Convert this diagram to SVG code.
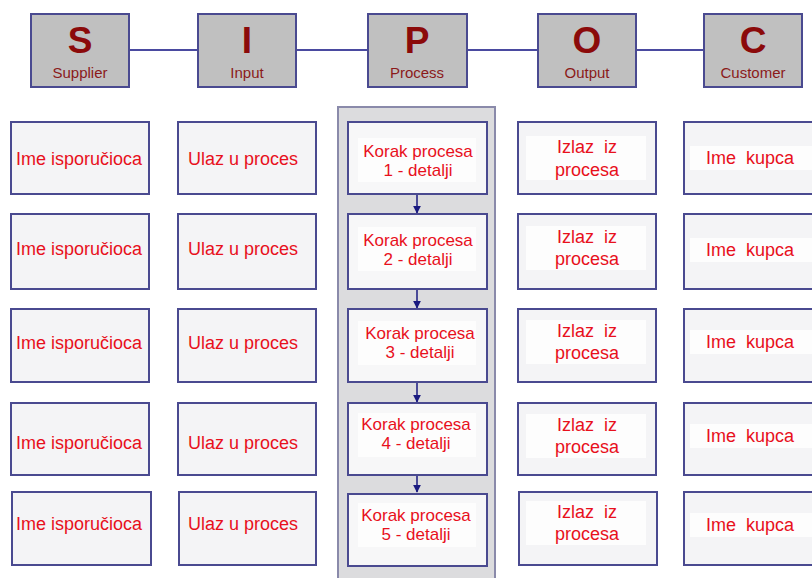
<svg xmlns="http://www.w3.org/2000/svg" width="812" height="578" viewBox="0 0 812 578">
<style>
.hdr{fill:#C0C0C0;stroke:#4A4A90;stroke-width:2}
.big{font-family:"Liberation Sans",Arial,sans-serif;font-weight:bold;font-size:37px;fill:#8B0A0A;text-anchor:middle}
.sub{font-family:"Liberation Sans",Arial,sans-serif;font-size:15px;fill:#8B1A1A;text-anchor:middle}
.box{fill:#F4F4F6;stroke:#4A4A90;stroke-width:2}
.pbox{fill:#F7F7F8;stroke:#4A4A90;stroke-width:2}
.hl{fill:#FDFDFD}
.t{font-family:"Liberation Sans",Arial,sans-serif;font-size:18px;fill:#E8101C;text-anchor:middle;white-space:pre}
.tp{font-family:"Liberation Sans",Arial,sans-serif;font-size:17px;fill:#E8101C;text-anchor:middle;white-space:pre}
.con{stroke:#4A4AA0;stroke-width:2;fill:none}
.arr{stroke:#1A1A80;stroke-width:1.5;fill:none}
</style>
<defs>
<marker id="ah" viewBox="0 0 10 10" refX="9" refY="5" markerWidth="8" markerHeight="8" markerUnits="userSpaceOnUse" orient="auto">
<path d="M0,0 L10,5 L0,10 z" fill="#1A1A80"/>
</marker>
</defs>
<rect width="812" height="578" fill="#FFFFFF"/>
<g id="connectors">
<line class="con" x1="129" y1="50" x2="198" y2="50"/>
<line class="con" x1="296" y1="50" x2="368" y2="50"/>
<line class="con" x1="467" y1="50" x2="538" y2="50"/>
<line class="con" x1="636" y1="50" x2="704" y2="50"/>
</g>
<g id="hdr-S"><rect class="hdr" x="31" y="14" width="98" height="73"/><text class="big" x="80" y="53">S</text><text class="sub" x="80" y="78">Supplier</text></g>
<g id="hdr-I"><rect class="hdr" x="198" y="14" width="98" height="73"/><text class="big" x="247" y="53">I</text><text class="sub" x="247" y="78">Input</text></g>
<g id="hdr-P"><rect class="hdr" x="368" y="14" width="99" height="73"/><text class="big" x="417" y="53">P</text><text class="sub" x="417" y="78">Process</text></g>
<g id="hdr-O"><rect class="hdr" x="538" y="14" width="98" height="73"/><text class="big" x="587" y="53">O</text><text class="sub" x="587" y="78">Output</text></g>
<g id="hdr-C"><rect class="hdr" x="704" y="14" width="98" height="73"/><text class="big" x="753" y="53">C</text><text class="sub" x="753" y="78">Customer</text></g>
<g id="process-panel"><rect x="338" y="107" width="157" height="475" fill="#DCDCDE" stroke="#8A8AAA" stroke-width="2"/></g>
<g id="process-arrows">
<line class="arr" x1="417" y1="194" x2="417" y2="213" marker-end="url(#ah)"/>
<line class="arr" x1="417" y1="289" x2="417" y2="308" marker-end="url(#ah)"/>
<line class="arr" x1="417" y1="382" x2="417" y2="402" marker-end="url(#ah)"/>
<line class="arr" x1="417" y1="475" x2="417" y2="492" marker-end="url(#ah)"/>
</g>
<g id="s1"><rect class="box" x="11" y="122" width="138" height="72"/><text class="t" x="79" y="165">Ime isporučioca</text></g>
<g id="s2"><rect class="box" x="11" y="214" width="138" height="75"/><text class="t" x="79" y="255">Ime isporučioca</text></g>
<g id="s3"><rect class="box" x="11" y="309" width="138" height="73"/><text class="t" x="79" y="349">Ime isporučioca</text></g>
<g id="s4"><rect class="box" x="11" y="403" width="138" height="72"/><text class="t" x="79" y="449">Ime isporučioca</text></g>
<g id="s5"><rect class="box" x="12" y="492" width="139" height="73"/><text class="t" x="79" y="530">Ime isporučioca</text></g>
<g id="i1"><rect class="box" x="178" y="122" width="138" height="72"/><text class="t" x="243" y="165">Ulaz u proces</text></g>
<g id="i2"><rect class="box" x="178" y="214" width="138" height="75"/><text class="t" x="243" y="255">Ulaz u proces</text></g>
<g id="i3"><rect class="box" x="178" y="309" width="138" height="73"/><text class="t" x="243" y="349">Ulaz u proces</text></g>
<g id="i4"><rect class="box" x="178" y="403" width="138" height="72"/><text class="t" x="243" y="449">Ulaz u proces</text></g>
<g id="i5"><rect class="box" x="179" y="492" width="137" height="73"/><text class="t" x="243" y="530">Ulaz u proces</text></g>
<g id="p1"><rect class="pbox" x="348" y="122" width="139" height="72"/><rect class="hl" x="358" y="138" width="118" height="44"/><text class="tp" x="418" y="157">Korak procesa</text><text class="tp" x="418" y="176">1 - detalji</text></g>
<g id="p2"><rect class="pbox" x="348" y="214" width="139" height="75"/><rect class="hl" x="358" y="227" width="118" height="44"/><text class="tp" x="418" y="246">Korak procesa</text><text class="tp" x="418" y="265">2 - detalji</text></g>
<g id="p3"><rect class="pbox" x="348" y="309" width="139" height="73"/><rect class="hl" x="358" y="321" width="118" height="44"/><text class="tp" x="420" y="339">Korak procesa</text><text class="tp" x="420" y="358">3 - detalji</text></g>
<g id="p4"><rect class="pbox" x="348" y="403" width="139" height="72"/><rect class="hl" x="358" y="413" width="118" height="44"/><text class="tp" x="416" y="430">Korak procesa</text><text class="tp" x="416" y="449">4 - detalji</text></g>
<g id="p5"><rect class="pbox" x="348" y="494" width="139" height="72"/><rect class="hl" x="358" y="503" width="118" height="44"/><text class="tp" x="416" y="521">Korak procesa</text><text class="tp" x="416" y="540">5 - detalji</text></g>
<g id="o1"><rect class="box" x="518" y="122" width="138" height="72"/><rect class="hl" x="526" y="136" width="120" height="44"/><text class="t" x="587" y="153">Izlaz  iz</text><text class="t" x="587" y="176">procesa</text></g>
<g id="o2"><rect class="box" x="518" y="214" width="138" height="75"/><rect class="hl" x="526" y="226" width="120" height="44"/><text class="t" x="587" y="243">Izlaz  iz</text><text class="t" x="587" y="265">procesa</text></g>
<g id="o3"><rect class="box" x="518" y="309" width="138" height="73"/><rect class="hl" x="526" y="320" width="120" height="44"/><text class="t" x="587" y="337">Izlaz  iz</text><text class="t" x="587" y="359">procesa</text></g>
<g id="o4"><rect class="box" x="518" y="403" width="138" height="72"/><rect class="hl" x="526" y="414" width="120" height="44"/><text class="t" x="587" y="431">Izlaz  iz</text><text class="t" x="587" y="453">procesa</text></g>
<g id="o5"><rect class="box" x="519" y="492" width="138" height="73"/><rect class="hl" x="526" y="501" width="120" height="44"/><text class="t" x="587" y="518">Izlaz  iz</text><text class="t" x="587" y="540">procesa</text></g>
<g id="c1"><rect class="box" x="684" y="122" width="130" height="72"/><rect class="hl" x="690" y="146" width="122" height="24"/><text class="t" x="750" y="164">Ime  kupca</text></g>
<g id="c2"><rect class="box" x="684" y="214" width="130" height="75"/><rect class="hl" x="690" y="238" width="122" height="24"/><text class="t" x="750" y="256">Ime  kupca</text></g>
<g id="c3"><rect class="box" x="684" y="309" width="130" height="73"/><rect class="hl" x="690" y="330" width="122" height="24"/><text class="t" x="750" y="348">Ime  kupca</text></g>
<g id="c4"><rect class="box" x="684" y="403" width="130" height="72"/><rect class="hl" x="690" y="424" width="122" height="24"/><text class="t" x="750" y="442">Ime  kupca</text></g>
<g id="c5"><rect class="box" x="684" y="492" width="130" height="73"/><rect class="hl" x="690" y="513" width="122" height="24"/><text class="t" x="750" y="531">Ime  kupca</text></g>
</svg>
